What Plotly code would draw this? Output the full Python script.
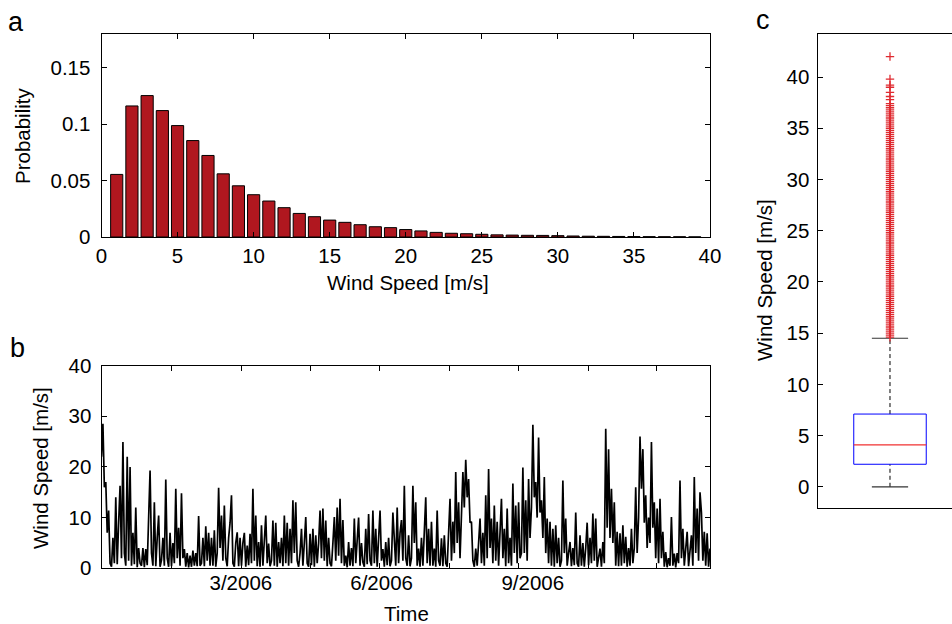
import numpy as np
import plotly.graph_objects as go

# ---------------- data ----------------
# (a) wind speed histogram
speed_bins = list(range(1, 40))
probability = [0.0555, 0.1162, 0.1254, 0.1121, 0.0988, 0.0855, 0.0723, 0.0560, 0.0454, 0.0375,
               0.0319, 0.0260, 0.0209, 0.0180, 0.0150, 0.0130, 0.0109, 0.0091, 0.0083, 0.0066,
               0.0054, 0.0041, 0.0033, 0.0029, 0.0024, 0.0019, 0.0017, 0.0015, 0.0014, 0.0012,
               0.0009, 0.0007, 0.0006, 0.0005, 0.0004, 0.0003, 0.0002, 0.0002, 0.0001]
hist_xticks = [0, 5, 10, 15, 20, 25, 30, 35, 40]
hist_yticks = [0, 0.05, 0.1, 0.15]
hist_yticktext = ["0", "0.05", "0.1", "0.15"]

# (b) wind speed time series over 2006
wind_speed_2006 = [
    22, 28.5, 16, 17, 7, 11.4, 1,
    0.3, 6, 1, 14, 0.8, 9, 16.3,
    2, 24.9, 3, 0.5, 22, 1.5, 20,
    0.5, 7, 0.8, 12, 0.2, 4, 1,
    0.5, 4, 0.2, 3.8, 0.6, 9, 19.3,
    3, 0.5, 13, 0.4, 6, 10.4, 0.3,
    1.6, 6, 0.5, 17.5, 2, 0.3, 7,
    0.4, 5, 1, 15.7, 2, 8, 0.5,
    14.8, 2, 3.8, 0.3, 3, 0.2, 2.5,
    0.3, 3.5, 0.5, 3, 0.4, 10.3, 0.5,
    1, 6, 0.4, 8.3, 1.5, 7, 0.5,
    6, 0.5, 7.5, 0.3, 3, 15.9, 4,
    10.4, 1.5, 12.4, 2, 0.4, 6, 9,
    14.4, 1, 0.3, 5, 7.1, 0.4, 6,
    0.5, 5, 7, 0.3, 4.5, 0.6, 6.8,
    1, 15.7, 1.5, 10.4, 0.4, 5.2, 0.3,
    8.5, 0.5, 7, 10.4, 1, 4.9, 0.4,
    1.5, 9.4, 0.5, 9, 0.3, 5.2, 1,
    6, 0.4, 10.4, 1, 9, 0.5, 7.8,
    1, 13.4, 3, 13, 1.5, 0.3, 3,
    7.8, 0.5, 5, 10.1, 1, 0.3, 6.8,
    0.6, 7.8, 0.3, 6.5, 1, 5, 11.4,
    2, 11.8, 1.5, 9.4, 0.4, 6, 1,
    0.4, 5, 10.1, 1.5, 12, 2.5, 13.7,
    1, 9.5, 0.5, 2.5, 0.2, 5.2, 0.5,
    4, 0.4, 9.8, 1, 6, 10, 0.5,
    5, 1.2, 0.3, 7.8, 0.8, 10.7, 1.5,
    0.5, 11.4, 1, 7.8, 0.3, 5, 11.4,
    1.5, 3.8, 0.3, 5.2, 0.6, 6, 0.4,
    1.5, 11, 5.9, 0.5, 12, 1, 7,
    9.5, 1.5, 16.3, 2, 0.5, 6.5, 0.4,
    2, 16.3, 5, 13, 0.5, 3.9, 0.3,
    6, 0.5, 9, 14, 1, 7.8, 0.5,
    9.2, 0.5, 3.9, 0.3, 11.4, 1.5, 0.5,
    5.9, 0.4, 6.5, 1, 0.3, 6, 13.7,
    1.5, 9.2, 3, 19, 5, 13, 2,
    11, 19, 12, 21.4, 14, 17.6, 9,
    9.2, 1.5, 0.3, 3.9, 0.5, 5, 9.8,
    1, 7, 0.5, 14.4, 2, 19.6, 4,
    9.8, 1, 12.4, 1.5, 9.2, 0.5, 6,
    13.7, 2, 7.8, 0.4, 11.8, 1, 6,
    0.5, 16.7, 3, 12.4, 1, 13, 2,
    3, 19.9, 3, 13.4, 1.5, 17.6, 6,
    12, 28.3, 14, 17, 10, 25.8, 11,
    13.4, 6, 18, 3, 9.8, 1, 9.2,
    0.5, 7.8, 0.3, 8.5, 1, 6, 0.3,
    1.5, 17.3, 3, 9.8, 0.5, 3, 5.2,
    0.4, 4, 0.6, 11, 1, 0.3, 6.5,
    0.5, 5, 0.3, 4, 9, 0.6, 6,
    1, 10.8, 1.5, 9.8, 0.3, 2, 3.9,
    0.3, 5.2, 1, 27.5, 8, 23.5, 6,
    15.7, 5, 13, 0.5, 7.2, 0.4, 6.9,
    0.5, 8.5, 1, 6.2, 0.3, 4, 0.5,
    7.8, 1, 4, 16, 3, 10, 26,
    15.7, 23.5, 9, 14.4, 4, 10, 5,
    24.9, 8, 13, 2, 11.8, 1, 13.7,
    2, 7.2, 0.3, 3.2, 0.2, 2, 0.5,
    10.1, 0.5, 2.9, 0.2, 3, 1, 17.3,
    2, 7.8, 0.5, 4, 7.2, 0.4, 3,
    6.5, 0.5, 18, 3, 11.8, 1.5, 15,
    11, 1.5, 7.2, 0.5, 6.9, 0.3, 3.9,
]
series_tick_days = [42.0, 83.7, 125.3, 166.6, 208.6, 249.9, 291.9, 333.2]
series_label_days = [83.6, 168.0, 258.7]
series_label_text = ["3/2006", "6/2006", "9/2006"]
series_yticks = [0, 10, 20, 30, 40]

# (c) box plot statistics
box_stats = {"lower": 0.0, "q1": 2.2, "median": 4.1, "q3": 7.1, "upper": 14.5}
box_outliers = [14.6, 14.8, 15.0, 15.2, 15.4, 15.6, 15.8, 16.0, 16.2, 16.4, 16.6, 16.8,
                17.0, 17.2, 17.4, 17.6, 17.8, 18.0, 18.2, 18.4, 18.6, 18.8, 19.0, 19.2,
                19.4, 19.6, 19.8, 20.0, 20.2, 20.4, 20.6, 20.8, 21.0, 21.2, 21.4, 21.6,
                21.8, 22.0, 22.2, 22.4, 22.6, 22.8, 23.0, 23.2, 23.4, 23.6, 23.8, 24.0,
                24.2, 24.4, 24.6, 24.8, 25.0, 25.2, 25.4, 25.6, 25.8, 26.0, 26.2, 26.4,
                26.6, 26.8, 27.0, 27.2, 27.4, 27.6, 27.8, 28.0, 28.2, 28.4, 28.6, 28.8,
                29.0, 29.2, 29.4, 29.6, 29.8, 30.0, 30.2, 30.4, 30.6, 30.8, 31.0, 31.2,
                31.4, 31.6, 31.8, 32.0, 32.2, 32.4, 32.6, 32.8, 33.0, 33.2, 33.4, 33.6,
                33.8, 34.0, 34.2, 34.4, 34.6, 34.8, 35.0, 35.2, 35.4, 35.6, 35.8, 36.0,
                36.2, 36.4, 36.6, 36.8, 37.0, 37.2, 37.4, 37.8, 38.1, 38.5, 39.0, 39.2,
                39.8, 42.0]
box_yticks = [0, 5, 10, 15, 20, 25, 30, 35, 40]

# ---------------- styling ----------------
W, H = 952, 624
FONT = "Liberation Sans, Arial, sans-serif"
FS = 20.5
BAR_COLOR = "#B0171F"
BOX_POS, BOX_HALF, CAP_HALF = 1.0, 0.25, 0.125


def px_x(p):
    return p / W


def px_y(p):
    return 1 - p / H


time_days = np.linspace(0, 365, len(wind_speed_2006))

fig = go.Figure()

# (a) histogram bars
fig.add_trace(go.Bar(x=speed_bins, y=probability, width=0.8,
                     marker=dict(color=BAR_COLOR, line=dict(color="black", width=1)),
                     xaxis="x", yaxis="y", hoverinfo="skip"))

# (b) time series
fig.add_trace(go.Scatter(x=time_days, y=wind_speed_2006, mode="lines",
                         line=dict(color="black", width=1.7),
                         xaxis="x2", yaxis="y2", hoverinfo="skip"))
# invisible carrier for the label axis
fig.add_trace(go.Scatter(x=series_label_days, y=[0] * len(series_label_days), mode="markers",
                         marker=dict(opacity=0), xaxis="x4", yaxis="y2", hoverinfo="skip"))

# (c) box plot drawn from statistics
s = box_stats
WHISKER_DASH = "4px,3px"
fig.add_trace(go.Scatter(x=[BOX_POS, BOX_POS], y=[s["q3"], s["upper"]], mode="lines",
                         line=dict(color="black", width=1, dash=WHISKER_DASH),
                         xaxis="x3", yaxis="y3"))
fig.add_trace(go.Scatter(x=[BOX_POS, BOX_POS], y=[s["lower"], s["q1"]], mode="lines",
                         line=dict(color="black", width=1, dash=WHISKER_DASH),
                         xaxis="x3", yaxis="y3"))
for key in ("upper", "lower"):
    fig.add_trace(go.Scatter(x=[BOX_POS - CAP_HALF, BOX_POS + CAP_HALF], y=[s[key], s[key]],
                             mode="lines", line=dict(color="#333333", width=1.2),
                             xaxis="x3", yaxis="y3"))
fig.add_trace(go.Scatter(x=[BOX_POS - BOX_HALF, BOX_POS + BOX_HALF, BOX_POS + BOX_HALF,
                            BOX_POS - BOX_HALF, BOX_POS - BOX_HALF],
                         y=[s["q1"], s["q1"], s["q3"], s["q3"], s["q1"]], mode="lines",
                         line=dict(color="#0000FF", width=1), xaxis="x3", yaxis="y3"))
fig.add_trace(go.Scatter(x=[BOX_POS - BOX_HALF, BOX_POS + BOX_HALF], y=[s["median"], s["median"]],
                         mode="lines", line=dict(color="#F03030", width=1.2),
                         xaxis="x3", yaxis="y3"))
fig.add_trace(go.Scatter(x=[BOX_POS] * len(box_outliers), y=box_outliers, mode="markers",
                         marker=dict(symbol="cross-thin", size=6, color="#E02A30",
                                     line=dict(color="#E02A30", width=1.3)),
                         xaxis="x3", yaxis="y3"))

tickfont = dict(family=FONT, size=FS, color="black")
common = dict(showline=True, linecolor="black", linewidth=1, ticks="inside", ticklen=5,
              tickcolor="black", tickwidth=1, showgrid=False, zeroline=False,
              tickfont=tickfont, fixedrange=True, automargin=False)

xa_dom = [px_x(101.5), px_x(710)]
xc_common = {k: v for k, v in common.items() if k != "ticks"}
fig.update_layout(
    width=W, height=H, margin=dict(l=0, r=0, t=0, b=0, pad=0, autoexpand=False),
    paper_bgcolor="white", plot_bgcolor="white", showlegend=False,
    font=dict(family=FONT, size=FS, color="black"),
    xaxis=dict(domain=xa_dom, anchor="y", range=[0, 40], tickvals=hist_xticks,
               mirror="ticks", **common),
    yaxis=dict(domain=[px_y(237), px_y(34)], anchor="x", range=[0, 0.18],
               tickvals=hist_yticks, ticktext=hist_yticktext, mirror="ticks",
               ticklabelstandoff=6, **common),
    xaxis2=dict(domain=xa_dom, anchor="y2", range=[0, 365], tickvals=series_tick_days,
                ticktext=[""] * len(series_tick_days), mirror="ticks", **common),
    xaxis4=dict(domain=xa_dom, anchor="y2", overlaying="x2", range=[0, 365],
                tickvals=series_label_days, ticktext=series_label_text, ticks="",
                showline=False, showgrid=False, zeroline=False, tickfont=tickfont,
                automargin=False, fixedrange=True),
    yaxis2=dict(domain=[px_y(568.3), px_y(365.5)], anchor="x2", range=[0, 40],
                tickvals=series_yticks, mirror="ticks", ticklabelstandoff=5, **common),
    xaxis3=dict(domain=[px_x(817.5), 1.0], anchor="y3", range=[0.5, 1.4277],
                showticklabels=False, mirror=True, ticks="", **xc_common),
    yaxis3=dict(domain=[px_y(508.3), px_y(34)], anchor="x3", range=[-2.1, 44.2],
                tickvals=box_yticks, mirror=False, ticklabelstandoff=3, **common),
)

ann = [
    ("a", 16, 22, 0, 27), ("b", 17, 348, 0, 27), ("c", 763, 20, 0, 27),
    ("Wind Speed [m/s]", 408, 283, 0, FS), ("Time", 406, 613, 0, FS),
    ("Probability", 22, 136, -90, FS), ("Wind Speed [m/s]", 40, 468, -90, FS),
    ("Wind Speed [m/s]", 764, 280, -90, FS),
]
for text, x, y, ang, size in ann:
    fig.add_annotation(text=text, x=px_x(x), y=px_y(y), xref="paper", yref="paper",
                       xanchor="center", yanchor="middle", showarrow=False, textangle=ang,
                       font=dict(family=FONT, size=size, color="black"))

page_fix = ("document.body.style.margin='0';document.body.style.padding='0';"
            "document.documentElement.style.overflow='hidden';")
fig.write_html("out.html", post_script=page_fix, config={"displayModeBar": False})
